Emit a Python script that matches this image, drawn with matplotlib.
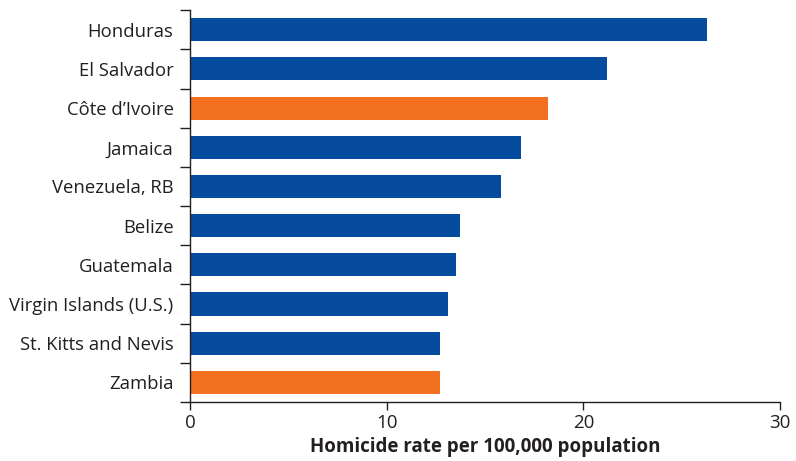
import matplotlib
matplotlib.use("Agg")
import matplotlib.pyplot as plt
from matplotlib.ticker import FixedLocator

countries = ["Honduras", "El Salvador", "Côte d’Ivoire", "Jamaica", "Venezuela, RB",
             "Belize", "Guatemala", "Virgin Islands (U.S.)", "St. Kitts and Nevis", "Zambia"]
rates = [26.3, 21.2, 18.2, 16.8, 15.8, 13.7, 13.5, 13.1, 12.7, 12.7]
highlight = [False, False, True, False, False, False, False, False, False, True]
xticks = [0, 10, 20, 30]

BLUE = "#064C9E"
ORANGE = "#F37021"

plt.rcParams['font.family'] = ['Open Sans', 'DejaVu Sans']

fig = plt.figure(figsize=(7.96, 4.61), dpi=100)
ax = fig.add_axes([0.239, 0.128, 0.741, 0.85])

ypos = list(range(len(countries)))
colors = [ORANGE if h else BLUE for h in highlight]
ax.barh(ypos, rates, height=0.59, color=colors, zorder=2)

ax.set_ylim(len(countries) - 0.5, -0.5)
ax.set_xlim(0, 30)
ax.set_xticks(xticks)
ax.set_xticklabels([str(t) for t in xticks], fontsize=13.5, color="#231F20")
ax.set_yticks(ypos)
ax.set_yticklabels(countries, fontsize=13.3, color="#231F20")
ax.yaxis.set_minor_locator(FixedLocator([i - 0.5 for i in range(len(countries) + 1)]))
ax.tick_params(axis='y', which='major', length=0, pad=12)
ax.tick_params(axis='y', which='minor', length=7, width=1, color="#231F20")
ax.tick_params(axis='x', which='major', length=6, width=1, color="#231F20", pad=3)

for s in ["top", "right"]:
    ax.spines[s].set_visible(False)
for s in ["left", "bottom"]:
    ax.spines[s].set_color("#231F20")
    ax.spines[s].set_linewidth(1)

ax.set_xlabel("Homicide rate per 100,000 population", fontsize=13.5, fontweight="bold",
              color="#231F20", labelpad=3)

fig.savefig("out.png", dpi=100)
